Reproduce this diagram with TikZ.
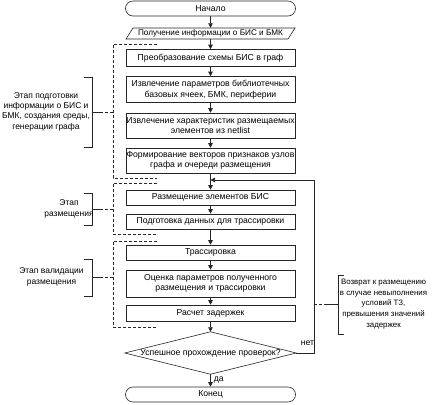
\documentclass[tikz,border=0pt]{standalone}
\usepackage{fontspec}
\setmainfont{Liberation Sans}
\usetikzlibrary{arrows.meta,calc}
\begin{document}
\begin{tikzpicture}[x=1bp,y=-1bp,
  every node/.style={font=\fontsize{8.7}{10.5}\selectfont, inner sep=0pt, align=center},
  ln/.style={line width=0.6bp, draw=black!85},
  procbox/.style={ln, draw, rectangle, minimum width=169bp},
  term/.style={ln, draw, rectangle, rounded corners=7.5bp, minimum width=170bp, minimum height=15bp},
  flow/.style={ln, -{Triangle[length=4.5bp,width=4.5bp]}},
  grp/.style={ln, dash pattern=on 3bp off 2bp},
  brk/.style={ln},
  small/.style={font=\fontsize{7.9}{10.6}\selectfont},
  lefttxt/.style={font=\fontsize{8.5}{10.4}\selectfont}
]
\useasboundingbox (0,0) rectangle (438,404);

% main flow
\node[term] (start) at (210.5,8.5) {Начало};
\node[rectangle, minimum width=161bp, minimum height=11bp, font=\fontsize{8.2}{10}\selectfont] (input) at (210.5,33.5) {Получение информации о БИС и БМК};
\draw[ln] (126,39) -- (133,28) -- (295,28) -- (288,39) -- cycle;
\node[procbox, minimum height=17bp] (b1) at (210.5,58) {Преобразование схемы БИС в граф};
\node[procbox, minimum height=26bp] (b2) at (210.5,89.5) {Извлечение параметров библиотечных\\базовых ячеек, БМК, периферии};
\node[procbox, minimum height=25bp] (b3) at (210.5,125.5) {Извлечение характеристик размещаемых\\элементов из netlist};
\node[procbox, minimum height=25bp] (b4) at (210.5,160.5) {Формирование векторов признаков узлов\\графа и очереди размещения};
\node[procbox, minimum height=15bp] (b5) at (210.5,197.5) {Размещение элементов БИС};
\node[procbox, minimum height=15bp] (b6) at (210.5,221.5) {Подготовка данных для трассировки};
\node[procbox, minimum height=15bp] (b7) at (210.5,252.5) {Трассировка};
\node[procbox, minimum height=27bp] (b8) at (210.5,283.5) {Оценка параметров полученного\\размещения и трассировки};
\node[procbox, minimum height=16bp] (b9) at (210.5,313) {Расчет задержек};
\node[rectangle, minimum width=171bp, minimum height=42bp] (dec) at (210.5,353) {Успешное прохождение проверок?};
\draw[ln] (dec.west) -- (dec.north) -- (dec.east) -- (dec.south) -- cycle;
\node[term] (end) at (210.5,394.5) {Конец};

\draw[flow] (start) -- (input);
\draw[flow] (input) -- (b1);
\draw[flow] (b1) -- (b2);
\draw[flow] (b2) -- (b3);
\draw[flow] (b3) -- (b4);
\draw[flow] (b4) -- (b5);
\draw[flow] (b5) -- (b6);
\draw[flow] (b6) -- (b7);
\draw[flow] (b7) -- (b8);
\draw[flow] (b8) -- (b9);
\draw[flow] (b9) -- (dec);
\draw[flow] (dec) -- node[right=3bp, pos=0.45] (yes) {да} (end);

\coordinate (lp) at (314,180);
\coordinate (merge) at (210.5,180);
\draw[flow] (dec.east) -| (lp) -- (merge);
\node (no) at (307.5,343) {нет};

% groups
\draw[grp] (157,44) -- (113,44) -- (113,178) -- (157,178);
\draw[grp] (157,183) -- (113,183) -- (113,234) -- (157,234);
\draw[grp] (157,241) -- (113,241) -- (113,327) -- (157,327);

% left brackets
\draw[brk] (84,77) -- (92,77) -- (92,147) -- (84,147);
\draw[brk] (92,112) -- (100,112);
\draw[grp] (100,112) -- (113,112);
\node[lefttxt] (t1) at (46,111.5) {Этап подготовки\\информации о БИС и\\БМК, создания среды,\\генерации графа};

\draw[brk] (84,193) -- (92,193) -- (92,225) -- (84,225);
\draw[brk] (92,209) -- (100,209);
\draw[grp] (100,209) -- (113,209);
\node[lefttxt] (t2) at (69,209) {Этап\\размещения};

\draw[brk] (84,259) -- (92,259) -- (92,296) -- (84,296);
\draw[brk] (92,277.5) -- (100,277.5);
\draw[grp] (100,277.5) -- (113,277.5);
\node[lefttxt] (t3) at (51.5,277) {Этап валидации\\размещения};

% right bracket
\draw[brk] (344,275) -- (338,275) -- (338,334) -- (344,334);
\draw[brk] (338,304) -- (327,304);
\draw[grp] (327,304) -- (314,304);
\node[small] (t4) at (383.5,304) {Возврат к размещению\\в случае невыполнения\\условий ТЗ,\\превышения значений\\задержек};
\end{tikzpicture}
\end{document}
